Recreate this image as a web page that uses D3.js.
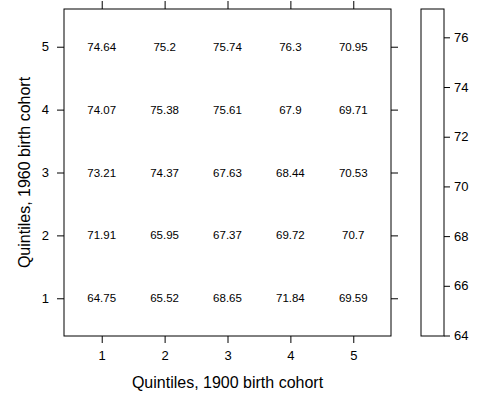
<!DOCTYPE html>
<html>
<head>
<meta charset="utf-8">
<script src="https://cdn.jsdelivr.net/npm/d3@7"></script>
<style>
  body { margin: 0; background: #fff; }
  text { font-family: "Liberation Sans", Arial, sans-serif; fill: #000; }
</style>
</head>
<body>
<svg id="chart"></svg>
<script>
// quintile categories on both axes
var quintiles = [1, 2, 3, 4, 5];
// rows: 1960 quintile 1..5, columns: 1900 quintile 1..5
var values = [
  [64.75, 65.52, 68.65, 71.84, 69.59],
  [71.91, 65.95, 67.37, 69.72, 70.7],
  [73.21, 74.37, 67.63, 68.44, 70.53],
  [74.07, 75.38, 75.61, 67.9, 69.71],
  [74.64, 75.2, 75.74, 76.3, 70.95]
];
var keyTicks = [64, 66, 68, 70, 72, 74, 76];

var svgWidth = 477, svgHeight = 397;
var panel = { left: 64, right: 391, top: 9, bottom: 336 };
var key = { left: 421, right: 444, top: 9, bottom: 336 };

var svg = d3.select("#chart").attr("width", svgWidth).attr("height", svgHeight);

var x = d3.scaleLinear().domain([0.4, 5.6]).range([panel.left, panel.right]);
var y = d3.scaleLinear().domain([0.4, 5.6]).range([panel.bottom, panel.top]);

var cells = [];
values.forEach(function(row, i) {
  row.forEach(function(v, j) {
    cells.push({ x: quintiles[j], y: quintiles[i], v: v });
  });
});

// cells (white fill, like the reference)
svg.append("g").selectAll("rect").data(cells).enter().append("rect")
  .attr("x", function(d) { return x(d.x - 0.5); })
  .attr("y", function(d) { return y(d.y + 0.5); })
  .attr("width", x(1.5) - x(0.5))
  .attr("height", y(0.5) - y(1.5))
  .attr("fill", "#fff");

svg.append("g").selectAll("text").data(cells).enter().append("text")
  .attr("x", function(d) { return x(d.x); })
  .attr("y", function(d) { return y(d.y); })
  .attr("dy", "0.35em")
  .attr("text-anchor", "middle")
  .style("font-size", "11.5px")
  .text(function(d) { return d.v; });

// axes on all four sides, labels only left & bottom
function styleAxis(g) {
  g.select(".domain").remove();
  g.selectAll("line").attr("stroke", "#000");
  g.selectAll("text").style("font-size", "13px").style("font-family", "Liberation Sans, Arial, sans-serif");
}

svg.append("g").attr("transform", "translate(0," + panel.bottom + ")")
  .call(d3.axisBottom(x).tickValues(quintiles).tickSize(7).tickPadding(8).tickFormat(d3.format("d")))
  .call(styleAxis);
svg.append("g").attr("transform", "translate(0," + panel.top + ")")
  .call(d3.axisTop(x).tickValues(quintiles).tickSize(8).tickFormat(""))
  .call(styleAxis);
svg.append("g").attr("transform", "translate(" + panel.left + ",0)")
  .call(d3.axisLeft(y).tickValues(quintiles).tickSize(7).tickPadding(8).tickFormat(d3.format("d")))
  .call(styleAxis);
svg.append("g").attr("transform", "translate(" + panel.right + ",0)")
  .call(d3.axisRight(y).tickValues(quintiles).tickSize(7).tickFormat(""))
  .call(styleAxis);

svg.append("rect")
  .attr("x", panel.left).attr("y", panel.top)
  .attr("width", panel.right - panel.left).attr("height", panel.bottom - panel.top)
  .attr("fill", "none").attr("stroke", "#000");

// color key
var k = d3.scaleLinear().domain([63.98, 77.14]).range([key.bottom, key.top]);
svg.append("rect")
  .attr("x", key.left).attr("y", key.top)
  .attr("width", key.right - key.left).attr("height", key.bottom - key.top)
  .attr("fill", "#fff").attr("stroke", "#000");
svg.append("g").attr("transform", "translate(" + key.right + ",0)")
  .call(d3.axisRight(k).tickValues(keyTicks).tickSize(6).tickPadding(4))
  .call(styleAxis);

// titles
svg.append("text")
  .attr("x", (panel.left + panel.right) / 2).attr("y", 388)
  .attr("text-anchor", "middle")
  .style("font-size", "16px")
  .text("Quintiles, 1900 birth cohort");
svg.append("text")
  .attr("transform", "translate(30," + (panel.top + panel.bottom) / 2 + ") rotate(-90)")
  .attr("text-anchor", "middle")
  .style("font-size", "16px")
  .text("Quintiles, 1960 birth cohort");
</script>
</body>
</html>
